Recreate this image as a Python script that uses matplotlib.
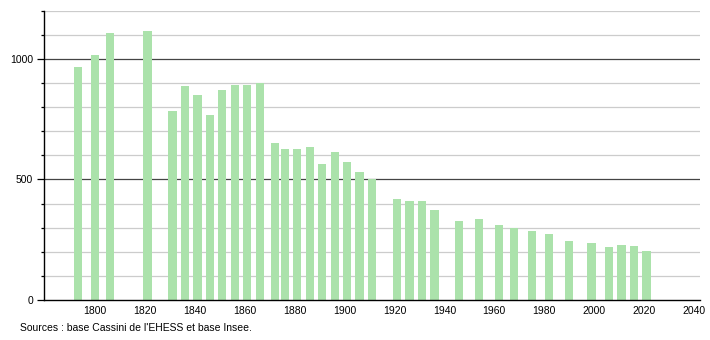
import matplotlib.pyplot as plt
from matplotlib.ticker import MultipleLocator

plt.rcParams['font.family'] = ['Liberation Sans', 'DejaVu Sans']

# recensements et population
years = [1793, 1800, 1806, 1821, 1831, 1836, 1841, 1846, 1851, 1856, 1861, 1866,
         1872, 1876, 1881, 1886, 1891, 1896, 1901, 1906, 1911, 1921, 1926, 1931,
         1936, 1946, 1954, 1962, 1968, 1975, 1982, 1990, 1999, 2006, 2011, 2016,
         2021]
population = [965, 1015, 1108, 1116, 784, 888, 849, 768, 871, 891, 892, 898,
              650, 627, 627, 633, 566, 614, 573, 532, 502, 419, 411, 411,
              373, 329, 335, 311, 297, 286, 274, 246, 237, 220, 228, 224,
              203]
xticks = list(range(1800, 2041, 20))
yticks = [0, 500, 1000]

fig = plt.figure(figsize=(7.1, 3.4), dpi=100)
ax = fig.add_axes([0.062, 0.1176, 0.924, 0.851])

# grille : fine tous les 100, foncée tous les 500
for v in range(100, 1201, 100):
    if v % 500 == 0:
        ax.axhline(v, color='#444444', lw=0.9, zorder=1)
    else:
        ax.axhline(v, color='#cccccc', lw=0.9, zorder=1)

ax.bar(years, population, width=3.3, color='#abe2ab', zorder=2)

ax.set_xlim(1779.5, 2042.5)
ax.set_ylim(0, 1200)
ax.set_xticks(xticks)
ax.set_yticks(yticks)
ax.yaxis.set_minor_locator(MultipleLocator(100))
ax.tick_params(axis='x', length=0, labelsize=7.5, pad=4)
ax.tick_params(axis='y', which='major', length=5, width=0.9, labelsize=7.5, pad=3)
ax.tick_params(axis='y', which='minor', length=2, width=0.9)

for side in ['top', 'right']:
    ax.spines[side].set_visible(False)
ax.spines['left'].set_linewidth(1.0)
ax.spines['bottom'].set_linewidth(1.0)

fig.text(20 / 710, 1 - 328 / 340, "Sources : base Cassini de l'EHESS et base Insee.",
         fontsize=7.5, va='center', ha='left')

plt.savefig('out.png', dpi=100)
plt.close()
